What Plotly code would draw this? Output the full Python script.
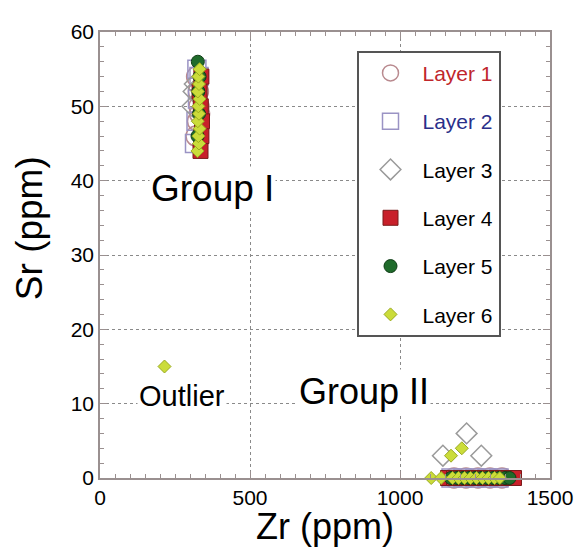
import plotly.graph_objects as go

# ---- data ----
l1_zr = [320, 325, 330, 328, 322, 332, 1180, 1220, 1260, 1300, 1340]
l1_sr = [46, 48, 50, 52, 54, 49, 0, 0, 0, 0, 0]

l2_zr = [315, 320, 325, 330, 323, 1170, 1210, 1250, 1290, 1330]
l2_sr = [45, 48, 51, 54, 55, 0, 0, 0, 0, 0]

l3_zr = [308, 312, 316, 1143, 1222, 1271]
l3_sr = [50, 52, 53, 3, 6, 3]

l4_zr = [335, 338, 340, 336, 332, 338, 1160, 1180, 1200, 1220, 1240, 1260, 1280, 1300, 1320, 1340, 1360, 1380]
l4_sr = [44, 46, 48, 50, 52, 54, 0, 0, 0, 0, 0, 0, 0, 0, 0, 0, 0, 0]

l5_zr = [325, 330, 328, 332, 326, 1170, 1190, 1210, 1230, 1250, 1270, 1290, 1310, 1330, 1350, 1365]
l5_sr = [46, 49, 52, 54, 56, 0, 0, 0, 0, 0, 0, 0, 0, 0, 0, 0]

l6_zr = [325, 330, 328, 332, 326, 330, 328, 332, 326, 330, 328, 332,
         215,
         1104, 1137, 1170, 1206, 1175, 1195, 1215, 1235, 1255, 1275, 1295, 1315, 1333]
l6_sr = [44, 45, 46, 47, 48, 49, 50, 51, 52, 53, 54, 55,
         15,
         0, 0, 3, 4, 0, 0, 0, 0, 0, 0, 0, 0, 0]

layers = [
    ("<span style='color:#c0262c'>Layer 1</span>", l1_zr, l1_sr, "circle-open", 20, "#b98a8f", None),
    ("<span style='color:#2a2f8a'>Layer 2</span>", l2_zr, l2_sr, "square-open", 18, "#9a93c4", None),
    ("Layer 3", l3_zr, l3_sr, "diamond-open", 16, "#9a9a9a", None),
    ("Layer 4", l4_zr, l4_sr, "square", 15, "#c8202a", "#7a1a1a"),
    ("Layer 5", l5_zr, l5_sr, "circle", 13, "#1f6b2b", "#0f3d16"),
    ("Layer 6", l6_zr, l6_sr, "diamond", 10, "#cbdc3a", "#9aaa20"),
]

FONT = "Liberation Sans, Arial, Helvetica, sans-serif"
AX = "#9a9090"

fig = go.Figure()
for i, (name, zr, sr, sym, size, col, line) in enumerate(layers):
    if line is None:
        marker = dict(symbol=sym, size=size, color=col, line=dict(width=1.5, color=col))
    else:
        marker = dict(symbol=sym, size=size, color=col, line=dict(width=1, color=line))
    fig.add_trace(go.Scatter(x=zr, y=sr, mode="markers", name=name, marker=marker,
                             legendgroup=f"g{i}", cliponaxis=False))

axis_common = dict(
    showline=True, linecolor=AX, linewidth=1.5, mirror="ticks",
    ticks="inside", ticklen=7, tickcolor=AX,
    showgrid=True, gridcolor="#8a8a8a", griddash="dot", gridwidth=1,
    zeroline=False, tickfont=dict(size=21, color="black", family=FONT),
)

fig.update_xaxes(range=[0, 1500], dtick=500, tick0=0,
                 minor=dict(dtick=50, ticks="inside", ticklen=4, tickcolor=AX, showgrid=False),
                 **axis_common)
fig.update_yaxes(range=[0, 60], dtick=10, tick0=0,
                 minor=dict(dtick=2, ticks="inside", ticklen=4, tickcolor=AX, showgrid=False),
                 **axis_common)

# axis titles
fig.add_annotation(xref="paper", yref="paper", x=0.5, y=-0.108, text="Zr (ppm)",
                   showarrow=False, xanchor="center", yanchor="middle",
                   font=dict(size=36, color="black", family=FONT))
fig.add_annotation(xref="paper", yref="paper", x=-0.158, y=0.56, text="Sr (ppm)",
                   showarrow=False, xanchor="center", yanchor="middle", textangle=-90,
                   font=dict(size=37, color="black", family=FONT))

for txt, x, y, sz in [("Group I", 374, 38.9, 37), ("Group II", 880, 11.6, 36), ("Outlier", 272, 11.0, 29)]:
    fig.add_annotation(x=x, y=y, text=txt, showarrow=False, bgcolor="white",
                       font=dict(size=sz, color="black", family=FONT))

# the page body adds an 8px offset, so the figure is laid out 8px smaller
fig.update_layout(
    width=577, height=543,
    margin=dict(l=92, r=29, t=12, b=73),
    plot_bgcolor="white", paper_bgcolor="white",
    font=dict(family=FONT, color="black"),
    legend=dict(x=0.570, y=0.958, xanchor="left", yanchor="top",
                bgcolor="white", bordercolor="#555555", borderwidth=2,
                font=dict(size=21, color="black", family=FONT),
                tracegroupgap=18, itemsizing="trace", itemwidth=54),
)

fig.write_html("out.html")
